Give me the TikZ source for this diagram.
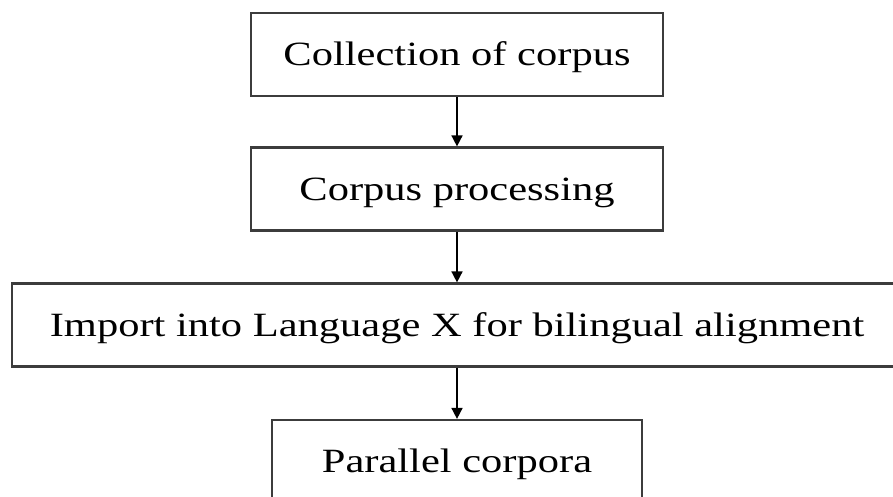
\documentclass[tikz,border=0pt]{standalone}
\usepackage{fontspec}
\setmainfont{Liberation Serif}
\usepackage{tikz}
\usetikzlibrary{arrows.meta, positioning}
\definecolor{boxgray}{RGB}{60, 60, 60}
\newcommand{\stepwide}[1]{\scalebox{1.25}[1]{#1}}

\begin{document}
\begin{tikzpicture}[x=1pt, y=-1pt,
    stepbox/.style={draw=boxgray, line width=2.2pt, fill=white, inner sep=0pt,
      minimum height=83pt, text height=22.5pt, text depth=0pt,
      font=\fontsize{34}{38}\selectfont},
    flow/.style={draw=black, line width=1.6pt, -{Triangle[length=11pt, width=11pt]}}]
        \useasboundingbox (0,0) rectangle (893,496);
        \clip (0,0) rectangle (893,496);
        \fill[white] (0,0) rectangle (893,496);
        \node[stepbox, minimum width=412pt] (collect) at (457,54.5) {\stepwide{Collection of corpus}};
        \node[stepbox, minimum width=412pt] (process) at (457,189) {\stepwide{Corpus processing}};
        \node[stepbox, minimum width=890pt] (import) at (457,325) {\stepwide{Import into Language X for bilingual alignment}};
        \node[stepbox, minimum width=370pt] (parallel) at (457,461.5) {\stepwide{Parallel corpora}};
        \foreach \a/\b in {collect/process, process/import, import/parallel}{
          \draw[flow] (\a.south) -- (\b.north);
        }
      \end{tikzpicture}
\end{document}
